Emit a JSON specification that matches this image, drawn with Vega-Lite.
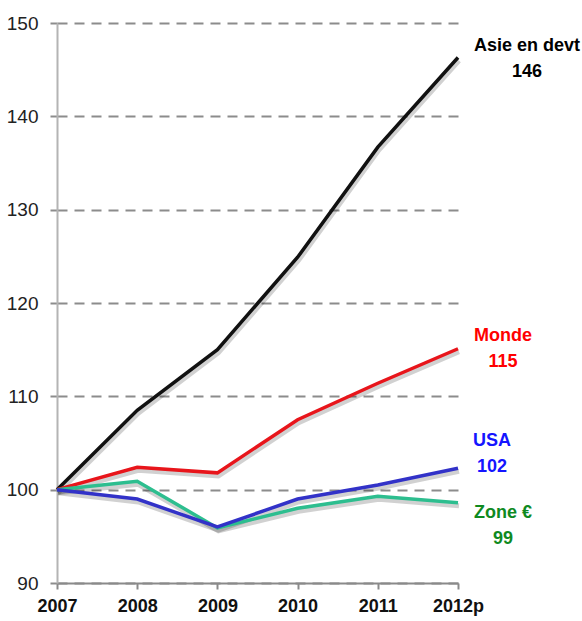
{
  "$schema": "https://vega.github.io/schema/vega-lite/v6.json",
  "autosize": {"type": "none"},
  "width": 401,
  "height": 560,
  "padding": {"left": 57, "top": 23, "right": 124, "bottom": 38},
  "background": "#ffffff",
  "config": {
    "view": {"stroke": null},
    "font": "Liberation Sans"
  },
  "datasets": {
    "series": [
      {"serie": "Asie en devt", "annee": "2007", "indice": 100},
      {"serie": "Asie en devt", "annee": "2008", "indice": 108.5},
      {"serie": "Asie en devt", "annee": "2009", "indice": 115},
      {"serie": "Asie en devt", "annee": "2010", "indice": 124.9},
      {"serie": "Asie en devt", "annee": "2011", "indice": 136.7},
      {"serie": "Asie en devt", "annee": "2012p", "indice": 146.3},
      {"serie": "Monde", "annee": "2007", "indice": 100},
      {"serie": "Monde", "annee": "2008", "indice": 102.4},
      {"serie": "Monde", "annee": "2009", "indice": 101.8},
      {"serie": "Monde", "annee": "2010", "indice": 107.5},
      {"serie": "Monde", "annee": "2011", "indice": 111.4},
      {"serie": "Monde", "annee": "2012p", "indice": 115.1},
      {"serie": "Zone €", "annee": "2007", "indice": 100},
      {"serie": "Zone €", "annee": "2008", "indice": 100.9},
      {"serie": "Zone €", "annee": "2009", "indice": 95.9},
      {"serie": "Zone €", "annee": "2010", "indice": 98.0},
      {"serie": "Zone €", "annee": "2011", "indice": 99.3},
      {"serie": "Zone €", "annee": "2012p", "indice": 98.6},
      {"serie": "USA", "annee": "2007", "indice": 100},
      {"serie": "USA", "annee": "2008", "indice": 99.0},
      {"serie": "USA", "annee": "2009", "indice": 96.0},
      {"serie": "USA", "annee": "2010", "indice": 99.0},
      {"serie": "USA", "annee": "2011", "indice": 100.5},
      {"serie": "USA", "annee": "2012p", "indice": 102.3}
    ],
    "etiquettes": [
      {"serie": "Asie en devt", "annee": "2012p", "indice": 146.3, "texte": "Asie en devt\n146"},
      {"serie": "Monde", "annee": "2012p", "indice": 115.1, "texte": "Monde\n115"},
      {"serie": "USA", "annee": "2012p", "indice": 102.3, "texte": "USA\n102"},
      {"serie": "Zone €", "annee": "2012p", "indice": 98.6, "texte": "Zone €\n99"}
    ]
  },
  "encoding": {
    "x": {
      "field": "annee", "type": "ordinal",
      "scale": {"type": "point", "padding": 0},
      "axis": {
        "title": null, "labelAngle": 0,
        "domainColor": "#8a8a8a", "domainWidth": 2,
        "tickColor": "#8a8a8a", "tickWidth": 2, "tickSize": 6,
        "labelFont": "Liberation Sans", "labelFontWeight": "bold",
        "labelFontSize": 18, "labelColor": "#111111", "labelPadding": 8
      }
    },
    "y": {
      "field": "indice", "type": "quantitative",
      "scale": {"domain": [90, 150], "nice": false, "zero": false},
      "axis": {
        "title": null, "values": [90, 100, 110, 120, 130, 140, 150],
        "domainColor": "#b4b4b4", "domainWidth": 2,
        "tickColor": "#8c8c8c", "tickWidth": 2, "tickSize": 7,
        "grid": true, "gridColor": "#8c8c8c", "gridWidth": 2, "gridDash": [10, 7],
        "labelFont": "Liberation Sans", "labelFontSize": 19,
        "labelColor": "#222222", "labelPadding": 12
      }
    }
  },
  "layer": [
    {
      "data": {"name": "series"},
      "mark": {"type": "line", "strokeWidth": 5, "opacity": 0.18, "yOffset": 3, "xOffset": 1, "color": "#000000"},
      "encoding": {"detail": {"field": "serie"}}
    },
    {
      "data": {"name": "series"},
      "mark": {"type": "line", "strokeWidth": 3.5},
      "encoding": {
        "color": {
          "field": "serie", "type": "nominal", "legend": null,
          "scale": {
            "domain": ["Asie en devt", "Monde", "Zone €", "USA"],
            "range": ["#111111", "#e8151b", "#2dbe8f", "#3232c8"]
          }
        }
      }
    },
    {
      "data": {"name": "etiquettes"},
      "transform": [{"filter": "datum.serie === 'Asie en devt'"}],
      "mark": {"type": "text", "lineBreak": "\n", "lineHeight": 26, "fontSize": 18, "fontWeight": "bold", "align": "center", "baseline": "middle", "dx": 69, "dy": -12, "color": "#000000"},
      "encoding": {"text": {"field": "texte"}}
    },
    {
      "data": {"name": "etiquettes"},
      "transform": [{"filter": "datum.serie === 'Monde'"}],
      "mark": {"type": "text", "lineBreak": "\n", "lineHeight": 26, "fontSize": 18, "fontWeight": "bold", "align": "center", "baseline": "middle", "dx": 45, "dy": -13, "color": "#ff0000"},
      "encoding": {"text": {"field": "texte"}}
    },
    {
      "data": {"name": "etiquettes"},
      "transform": [{"filter": "datum.serie === 'USA'"}],
      "mark": {"type": "text", "lineBreak": "\n", "lineHeight": 26, "fontSize": 18, "fontWeight": "bold", "align": "center", "baseline": "middle", "dx": 34, "dy": -27, "color": "#1515ff"},
      "encoding": {"text": {"field": "texte"}}
    },
    {
      "data": {"name": "etiquettes"},
      "transform": [{"filter": "datum.serie === 'Zone €'"}],
      "mark": {"type": "text", "lineBreak": "\n", "lineHeight": 26, "fontSize": 18, "fontWeight": "bold", "align": "center", "baseline": "middle", "dx": 45, "dy": 10, "color": "#0f8a1f"},
      "encoding": {"text": {"field": "texte"}}
    }
  ]
}
